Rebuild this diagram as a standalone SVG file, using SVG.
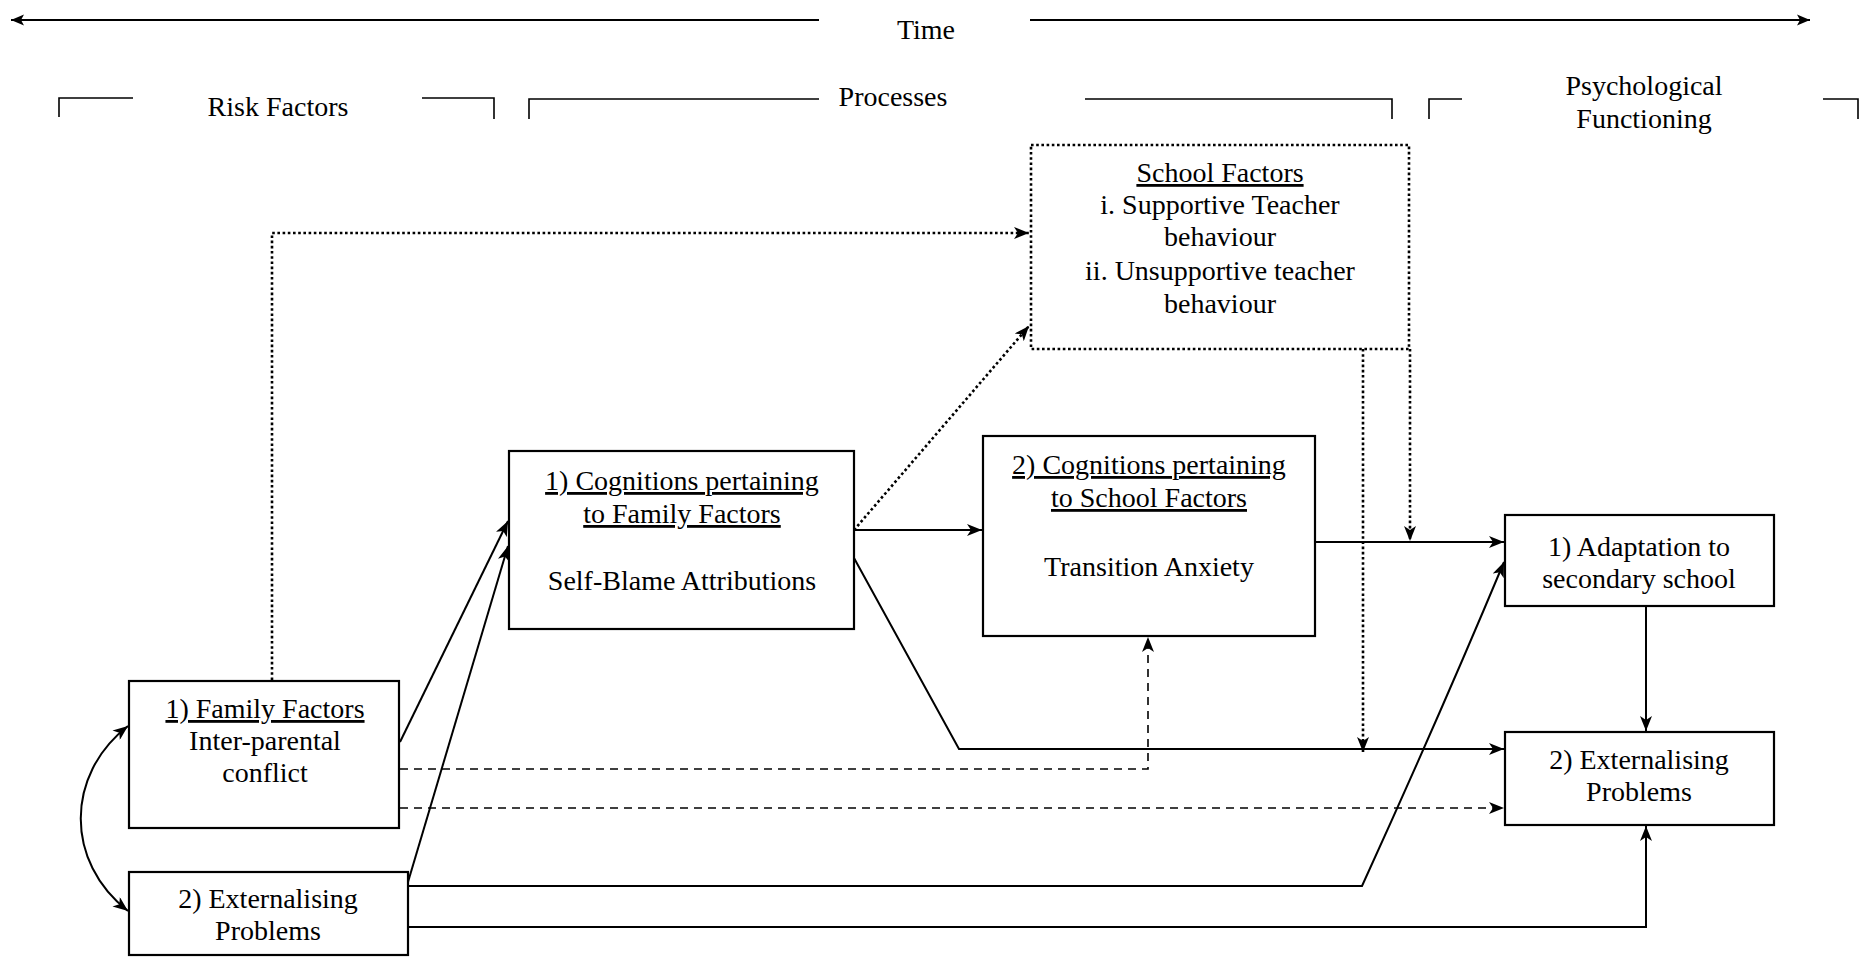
<svg xmlns="http://www.w3.org/2000/svg" width="1861" height="957" viewBox="0 0 1861 957">
  <defs>
    <style>
      text { font-family: "Liberation Serif", "Times New Roman", serif; font-size: 28px; fill: #000; text-anchor: middle; }
      .u { text-decoration: underline; }
      .box { fill: #fff; stroke: #000; stroke-width: 2.2; }
      .dotbox { fill: #fff; stroke: #000; stroke-width: 2.6; stroke-dasharray: 2.6 2.6; }
      .solid { fill: none; stroke: #000; stroke-width: 2; }
      .dotted { fill: none; stroke: #000; stroke-width: 2.6; stroke-dasharray: 2.6 2.6; }
      .dashed { fill: none; stroke: #000; stroke-width: 1.6; stroke-dasharray: 8 6; }
      .bracket { fill: none; stroke: #000; stroke-width: 1.6; }
    </style>
    <marker id="arrow" markerUnits="userSpaceOnUse" markerWidth="16" markerHeight="12" refX="15" refY="6" orient="auto-start-reverse">
      <path d="M0,0 L15,6 L0,12 L4,6 z" fill="#000"/>
    </marker>
    <marker id="tarrow" markerUnits="userSpaceOnUse" markerWidth="14" markerHeight="12" refX="13" refY="6" orient="auto-start-reverse">
      <path d="M0,0.5 L13,6 L0,11.5 L3,6 z" fill="#000"/>
    </marker>
  </defs>

  <!-- time axis and phase brackets -->
  <g id="timeline">
    <path class="solid" d="M11,20 H819" marker-start="url(#tarrow)"/>
    <path class="solid" d="M1030,20 H1810" marker-end="url(#tarrow)"/>
    <text x="926" y="39">Time</text>
    <path class="bracket" d="M59,117 V98 H133"/>
    <path class="bracket" d="M422,98 H494 V119"/>
    <text x="278" y="116">Risk Factors</text>
    <path class="bracket" d="M529,119 V99 H819"/>
    <path class="bracket" d="M1085,99 H1392 V119"/>
    <text x="893" y="106">Processes</text>
    <path class="bracket" d="M1429,119 V99 H1462"/>
    <path class="bracket" d="M1823,99 H1858 V119"/>
    <text x="1644" y="95">Psychological</text>
    <text x="1644" y="128">Functioning</text>
  </g>

  <!-- connectors -->
  <g id="connectors">
    <path class="dotted" d="M272,680 V233 H1029" marker-end="url(#arrow)"/>
    <path class="dotted" d="M854,530 L1029,326" marker-end="url(#arrow)"/>
    <path class="solid" d="M854,530 H982" marker-end="url(#arrow)"/>
    <path class="solid" d="M1315,542 H1504" marker-end="url(#arrow)"/>
    <path class="dotted" d="M1410,349 V541" marker-end="url(#arrow)"/>
    <path class="dotted" d="M1363,349 V752" marker-end="url(#arrow)"/>
    <path class="solid" d="M854,558 L959,749 H1504" marker-end="url(#arrow)"/>
    <path class="dashed" d="M400,769 H1148 V637" marker-end="url(#arrow)"/>
    <path class="dashed" d="M400,808 H1504" marker-end="url(#arrow)"/>
    <path class="solid" d="M400,742 L508,521" marker-end="url(#arrow)"/>
    <path class="solid" d="M408,882 L508,546" marker-end="url(#arrow)"/>
    <path class="solid" d="M408,886 H1362 Q1440,715 1504,562" marker-end="url(#arrow)"/>
    <path class="solid" d="M408,927 H1646 V826" marker-end="url(#arrow)"/>
    <path class="solid" d="M1646,606 V731" marker-end="url(#arrow)"/>
    <path class="solid" d="M128,726 C65,775 65,862 128,911" marker-start="url(#arrow)" marker-end="url(#arrow)"/>
  </g>

  <g id="school-factors">
    <rect class="dotbox" x="1031" y="145" width="378" height="204"/>
    <text x="1220" y="182" class="u">School Factors</text>
    <text x="1220" y="214">i. Supportive Teacher</text>
    <text x="1220" y="246">behaviour</text>
    <text x="1220" y="280">ii. Unsupportive teacher</text>
    <text x="1220" y="313">behaviour</text>
  </g>

  <g id="cognitions-family">
    <rect class="box" x="509" y="451" width="345" height="178"/>
    <text x="682" y="490" class="u">1) Cognitions pertaining</text>
    <text x="682" y="523" class="u">to Family Factors</text>
    <text x="682" y="590">Self-Blame Attributions</text>
  </g>

  <g id="cognitions-school">
    <rect class="box" x="983" y="436" width="332" height="200"/>
    <text x="1149" y="474" class="u">2) Cognitions pertaining</text>
    <text x="1149" y="507" class="u">to School Factors</text>
    <text x="1149" y="576">Transition Anxiety</text>
  </g>

  <g id="adaptation">
    <rect class="box" x="1505" y="515" width="269" height="91"/>
    <text x="1639" y="556">1) Adaptation to</text>
    <text x="1639" y="588">secondary school</text>
  </g>

  <g id="externalising-outcome">
    <rect class="box" x="1505" y="732" width="269" height="93"/>
    <text x="1639" y="769">2) Externalising</text>
    <text x="1639" y="801">Problems</text>
  </g>

  <g id="family-factors">
    <rect class="box" x="129" y="681" width="270" height="147"/>
    <text x="265" y="718" class="u">1) Family Factors</text>
    <text x="265" y="750">Inter-parental</text>
    <text x="265" y="782">conflict</text>
  </g>

  <g id="externalising-risk">
    <rect class="box" x="129" y="872" width="279" height="83"/>
    <text x="268" y="908">2) Externalising</text>
    <text x="268" y="940">Problems</text>
  </g>
</svg>
